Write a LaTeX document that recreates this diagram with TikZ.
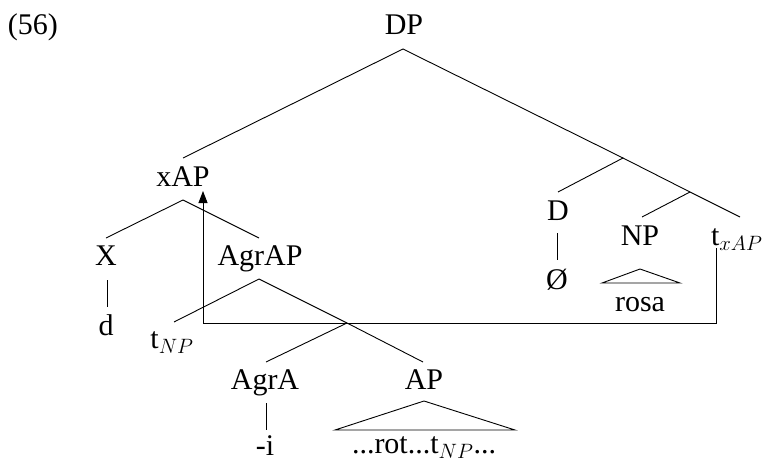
\documentclass[tikz,border=0pt]{standalone}
\usepackage{fontspec}
\setmainfont{Liberation Serif}
\usetikzlibrary{arrows.meta}
\begin{document}
\begin{tikzpicture}[x=1pt,y=-1pt,
  every node/.style={inner sep=0pt,outer sep=0pt,font=\fontsize{30}{36}\selectfont},
  lbl/.style={anchor=base},
  br/.style={line width=0.9pt},
  mv/.style={line width=0.9pt,-{Triangle[length=12pt,width=9pt]}}]
\useasboundingbox (0,0) rectangle (765,463);
% labels
\node[anchor=base west] (ex) at (8,34) {(56)};
\node[lbl] (DP) at (404,34) {DP};
\node[lbl] (xAP) at (183,186) {xAP};
\node[lbl] (X) at (106,265) {X};
\node[lbl] (AgrAP) at (260,265) {AgrAP};
\node[lbl] (d) at (106,335) {d};
\node[lbl] (tNP) at (172,348) {t$_{NP}$};
\node[lbl] (AgrA) at (265,389) {AgrA};
\node[lbl] (AP) at (424,389) {AP};
\node[lbl] (i) at (265,455) {-i};
\node[lbl] (rot) at (424,453) {...rot...t$_{NP}$...};
\node[lbl] (D) at (558,220) {D};
\node[lbl] (NP) at (640,245) {NP};
\node[anchor=base west] (txAP) at (711,245) {t$_{xAP}$};
\node[lbl] (O) at (557,289) {Ø};
\node[lbl] (rosa) at (640,311) {rosa};
% branch points
\coordinate (dpTop) at (403,49);
\coordinate (xapIn) at (183,158);
\coordinate (dbar) at (623,158);
\coordinate (dIn) at (558,192);
\coordinate (nbar) at (690,192);
\coordinate (npIn) at (642,217);
\coordinate (txIn) at (740,217);
\coordinate (dBot) at (557,233);
\coordinate (oTop) at (557,260);
\coordinate (npTri) at (640,269);
\coordinate (npTriL) at (602,283);
\coordinate (npTriR) at (680,283);
\coordinate (xapTop) at (183,200);
\coordinate (xIn) at (106,238);
\coordinate (agrapIn) at (259,238);
\coordinate (xBot) at (107,280);
\coordinate (dTop) at (107,307);
\coordinate (agrapTop) at (259,279);
\coordinate (tnpIn) at (174,322);
\coordinate (abar) at (347,323);
\coordinate (apIn) at (423,362);
\coordinate (agraIn) at (266,362);
\coordinate (agraBot) at (266,403);
\coordinate (iTop) at (266,430);
\coordinate (apTri) at (424,401);
\coordinate (apTriL) at (335,430);
\coordinate (apTriR) at (515,430);
\coordinate (txBot) at (716,248);
\coordinate (cornerR) at (716,323);
\coordinate (cornerL) at (203,323);
\coordinate (arrTip) at (203,191);
% branches
\draw[br] (xapIn) -- (dpTop) -- (dbar);
\draw[br] (dIn) -- (dbar) -- (nbar) -- (txIn);
\draw[br] (nbar) -- (npIn);
\draw[br] (dBot) -- (oTop);
\draw[br] (npTriL) -- (npTri) -- (npTriR) -- cycle;
\draw[br] (xIn) -- (xapTop) -- (agrapIn);
\draw[br] (xBot) -- (dTop);
\draw[br] (tnpIn) -- (agrapTop) -- (abar) -- (apIn);
\draw[br] (abar) -- (agraIn);
\draw[br] (agraBot) -- (iTop);
\draw[br] (apTriL) -- (apTri) -- (apTriR) -- cycle;
% movement
\draw[mv] (txBot) -- (cornerR) -- (cornerL) -- (arrTip);
\end{tikzpicture}
\end{document}
